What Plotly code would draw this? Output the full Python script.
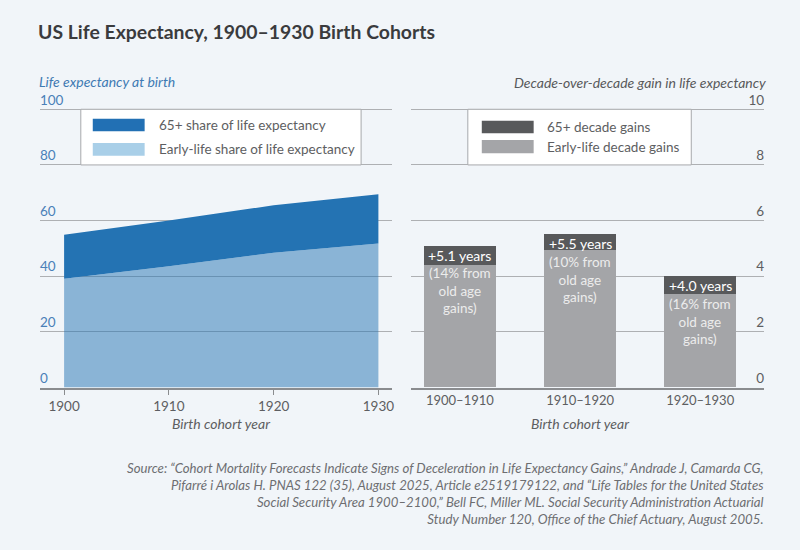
import plotly.graph_objects as go

W, H = 800, 550

# ---- data ----
years = [1900, 1910, 1920, 1930]
early_life = [39.1, 43.6, 48.4, 51.8]
old_age = [15.8, 16.4, 17.1, 17.7]

decades = ["1900–1910", "1910–1920", "1920–1930"]
early_gain = [4.39, 4.95, 3.36]
old_gain = [0.71, 0.55, 0.64]

left_ticks = [0, 20, 40, 60, 80, 100]
right_ticks = [0, 2, 4, 6, 8, 10]
left_names = ["65+ share of life expectancy", "Early-life share of life expectancy"]
right_names = ["65+ decade gains", "Early-life decade gains"]

title = "US Life Expectancy, 1900–1930 Birth Cohorts"
left_ytitle = "Life expectancy at birth"
right_ytitle = "Decade-over-decade gain in life expectancy"
xtitle = "Birth cohort year"
source_lines = [
    "Source: “Cohort Mortality Forecasts Indicate Signs of Deceleration in Life Expectancy Gains,” Andrade J, Camarda CG,",
    "Pifarré i Arolas H. PNAS 122 (35), August 2025, Article e2519179122, and “Life Tables for the United States",
    "Social Security Area 1900–2100,” Bell FC, Miller ML. Social Security Administration Actuarial",
    "Study Number 120, Office of the Chief Actuary, August 2005.",
]

# ---- style ----
FONT = "Lato"
BG = "#f1f5f9"
BLUE = "#2473b3"
BLUE_LIGHT = "rgba(36,115,179,0.5)"
SW_BLUE = "#2270b4"
SW_LIGHT = "#a9cfe8"
DARK_GRAY = "#58595b"
LIGHT_GRAY = "#a4a5a8"
GRID = "#aeb0b3"
AXIS = "#8a8c8f"
TXT = "#5d5e61"


def fx(p):
    return p / W


def fy(p):
    return 1 - p / H


fig = go.Figure()

# left: stacked areas
fig.add_trace(go.Scatter(
    x=years, y=early_life, stackgroup="le", mode="lines",
    line=dict(width=0), fillcolor=BLUE_LIGHT, name=left_names[1],
    showlegend=False, xaxis="x", yaxis="y"))
fig.add_trace(go.Scatter(
    x=years, y=old_age, stackgroup="le", mode="lines",
    line=dict(width=0), fillcolor=BLUE, name=left_names[0],
    showlegend=False, xaxis="x", yaxis="y"))

# right: stacked bars
fig.add_trace(go.Bar(
    x=decades, y=early_gain, marker=dict(color=LIGHT_GRAY, line=dict(width=0)),
    width=0.6, name=right_names[1], showlegend=False, xaxis="x2", yaxis="y2"))
fig.add_trace(go.Bar(
    x=decades, y=old_gain, marker=dict(color=DARK_GRAY, line=dict(width=0)),
    width=0.6, name=right_names[0], showlegend=False, xaxis="x2", yaxis="y2"))

ydom = [fy(387.5), fy(91.2)]

fig.update_layout(
    width=W, height=H,
    margin=dict(l=0, r=0, t=0, b=0),
    paper_bgcolor=BG, plot_bgcolor=BG,
    barmode="stack",
    font=dict(family=FONT, color=TXT, size=13),
    xaxis=dict(
        domain=[fx(40), fx(393)], range=[1897.69, 1931.30],
        tickvals=years, ticktext=[str(y) for y in years],
        ticks="outside", ticklen=6, tickcolor=AXIS, tickwidth=1,
        showline=True, linecolor=AXIS, linewidth=1.5,
        showgrid=False, zeroline=False,
        tickfont=dict(size=13.5, color=TXT, family=FONT),
        anchor="y"),
    yaxis=dict(
        domain=ydom, range=[0, 106.5],
        tickvals=left_ticks, ticktext=[str(v) for v in left_ticks],
        ticklabelposition="inside top", ticklabelstandoff=-3, ticks="",
        showgrid=True, gridcolor=GRID, gridwidth=1,
        zeroline=False, showline=False,
        tickfont=dict(size=13.5, color="#4a80b8", family=FONT),
        anchor="x"),
    xaxis2=dict(
        domain=[fx(412), fx(766)], range=[-0.407, 2.531], type="category",
        ticks="", showline=True, linecolor=AXIS, linewidth=1.5,
        showgrid=False, zeroline=False,
        tickfont=dict(size=13, color=TXT, family=FONT),
        anchor="y2"),
    yaxis2=dict(
        domain=ydom, range=[0, 10.65], side="right",
        tickvals=right_ticks, ticktext=[str(v) for v in right_ticks],
        ticklabelposition="inside top", ticklabelstandoff=-3, ticks="",
        showgrid=True, gridcolor=GRID, gridwidth=1,
        zeroline=False, showline=False,
        tickfont=dict(size=13.5, color=TXT, family=FONT),
        anchor="x2"),
)

ann = []
# title
ann.append(dict(x=fx(36), y=fy(31), xref="paper", yref="paper", xanchor="left", yanchor="middle",
                text=title, showarrow=False,
                font=dict(family=FONT, size=19.4, color="#3a3b3d", weight=700)))
# axis titles
ann.append(dict(x=fx(37), y=fy(82), xref="paper", yref="paper", xanchor="left", yanchor="middle",
                text=f"<i>{left_ytitle}</i>", showarrow=False,
                font=dict(family=FONT, size=14, color="#3e7ab3")))
ann.append(dict(x=fx(770), y=fy(83), xref="paper", yref="paper", xanchor="right", yanchor="middle",
                text=f"<i>{right_ytitle}</i>", showarrow=False,
                font=dict(family=FONT, size=14, color="#58595b")))
ann.append(dict(x=sum(years) / len(years), y=fy(423), xref="x", yref="paper", xanchor="center", yanchor="middle",
                text=f"<i>{xtitle}</i>", showarrow=False,
                font=dict(family=FONT, size=14, color=TXT)))
ann.append(dict(x=decades[1], y=fy(423), xref="x2", yref="paper", xanchor="center", yanchor="middle",
                text=f"<i>{xtitle}</i>", showarrow=False,
                font=dict(family=FONT, size=14, color=TXT)))
# source
ann.append(dict(x=fx(768), y=fy(458), xref="paper", yref="paper", xanchor="right", yanchor="top",
                align="right", text="<br>".join(f"<i>{s}</i>" for s in source_lines), showarrow=False,
                font=dict(family=FONT, size=13.2, color="#6d6e71")))

# bar labels
for d, e, o in zip(decades, early_gain, old_gain):
    total = e + o
    pct = round(100 * o / total)
    ann.append(dict(x=d, y=total, xref="x2", yref="y2", xanchor="center", yanchor="middle",
                    text=f"+{total:.1f} years", showarrow=False, yshift=-9.5, borderpad=0,
                    font=dict(family=FONT, size=14, color="white")))
    ann.append(dict(x=d, y=total, xref="x2", yref="y2", xanchor="center", yanchor="top",
                    text=f"({pct}% from<br>old age<br>gains)", showarrow=False, yshift=-18.5,
                    borderpad=0, align="center",
                    font=dict(family=FONT, size=13.5, color="#ececec")))

shapes = []
# left legend
shapes.append(dict(type="rect", xref="paper", yref="y", x0=fx(81), x1=fx(362), y0=80, y1=100,
                   fillcolor="white", line=dict(color="#a7a9ac", width=1), layer="above"))
left_rows = [(118.7, 131.3, SW_BLUE), (143, 155.7, SW_LIGHT)]
for (t, b, c), name in zip(left_rows, left_names):
    shapes.append(dict(type="rect", xref="paper", yref="paper", x0=fx(93), x1=fx(145), y0=fy(b), y1=fy(t),
                       fillcolor=c, line=dict(width=0), layer="above"))
    ann.append(dict(x=fx(157), y=fy((t + b) / 2), xref="paper", yref="paper", xanchor="left", yanchor="middle",
                    text=name, showarrow=False, font=dict(family=FONT, size=13.5, color=TXT)))
# right legend
shapes.append(dict(type="rect", xref="paper", yref="y2", x0=fx(469), x1=fx(693), y0=8, y1=10,
                   fillcolor="white", line=dict(color="#a7a9ac", width=1), layer="above"))
right_rows = [(120.7, 133.3, DARK_GRAY), (140, 153.3, LIGHT_GRAY)]
for (t, b, c), name in zip(right_rows, right_names):
    shapes.append(dict(type="rect", xref="paper", yref="paper", x0=fx(483), x1=fx(535), y0=fy(b), y1=fy(t),
                       fillcolor=c, line=dict(width=0), layer="above"))
    ann.append(dict(x=fx(546), y=fy((t + b) / 2), xref="paper", yref="paper", xanchor="left", yanchor="middle",
                    text=name, showarrow=False, font=dict(family=FONT, size=13.5, color=TXT)))

fig.update_layout(annotations=ann, shapes=shapes)
fig.write_html("out.html")
